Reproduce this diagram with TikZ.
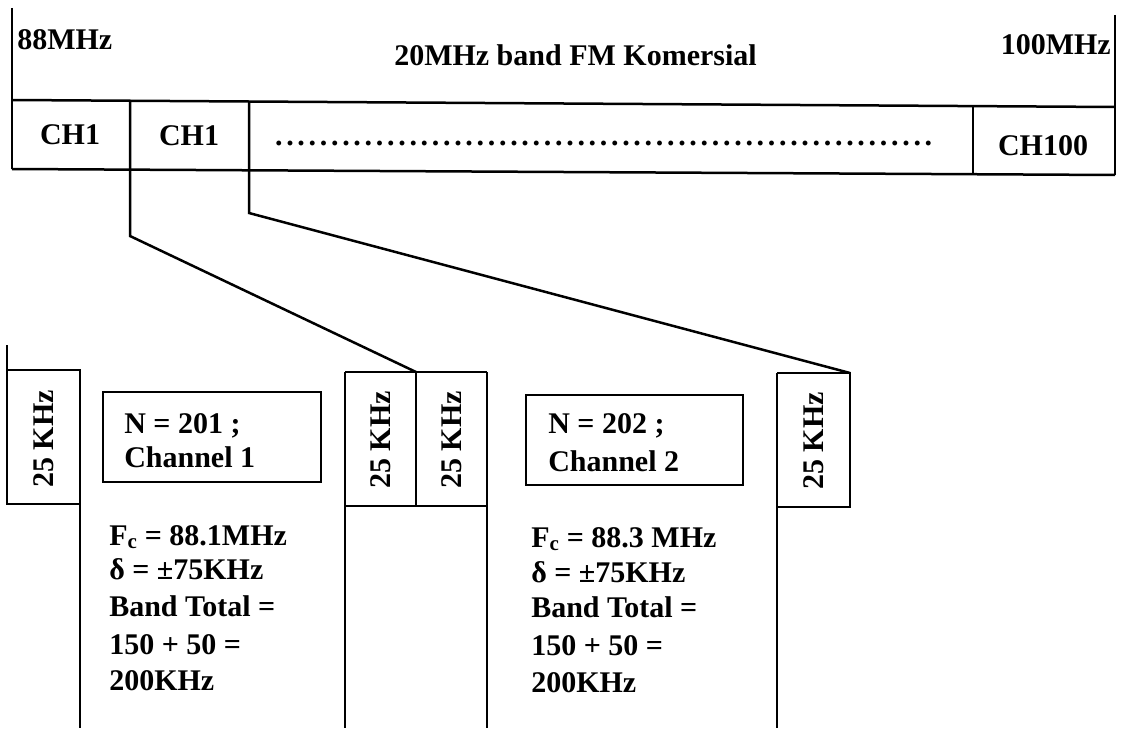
\documentclass[tikz,border=0pt]{standalone}
\usepackage{fontspec}
\setmainfont{Liberation Serif}
\begin{document}
\begin{tikzpicture}[x=1pt,y=-1pt,line width=2.5pt,
  txt/.style={font=\fontsize{30}{36}\selectfont\bfseries,inner sep=0pt,anchor=base west},
  rot/.style={font=\fontsize{30}{36}\selectfont\bfseries,inner sep=0pt,rotate=90},
  wire/.style={line width=2.5pt,line join=miter}]
\useasboundingbox (0,0) rectangle (1121,730);
% --- top band frame
\coordinate (tl) at (12,100);
\coordinate (tr) at (1115,107);
\coordinate (bl) at (12,169);
\coordinate (br) at (1115,175);
\draw[wire] (12,8) -- (bl);
\draw[wire] (1115,15) -- (br);
\draw[wire] (tl) -- (tr);
\draw[wire] (bl) -- (br);
\draw[wire] (973,106.1) -- (973,174.2);
% texts of the band
\node[txt] (f88) at (16,50) {88MHz};
\node[txt,anchor=base east] (f100) at (1112,55) {100MHz};
\node[txt] (band) at (393,66) {20MHz band FM Komersial};
\node[txt,anchor=base] (ch1a) at (70,145) {CH1};
\node[txt,anchor=base] (ch1b) at (189,146) {CH1};
\node[txt,anchor=base] (ch100) at (1043,156) {CH100};
\node[txt] (dots) at (272,146) {\makebox[670pt][l]{\leaders\hbox to 11.2pt{\hss.\hss}\hfill}};
% --- lower boxes
\coordinate (pairL) at (345,372);
\coordinate (pairM) at (416,372);
\coordinate (pairR) at (487,372);
\coordinate (rbL) at (777,373);
\coordinate (rbR) at (850,373);
% connectors from the band down to the expanded view
\draw[wire] (130,100.8) -- (130,236) -- (pairM);
\draw[wire] (249,101.5) -- (249,213) -- (rbR);
% left guard box
\draw[wire] (7,345) -- (7,504) -- (80,504);
\draw[wire] (7,370) -- (80,370) -- (80,728);
\node[rot] (g1) at (44,439) {25 KHz};
% pair of guard boxes
\draw[wire] (pairL) -- (pairR);
\draw[wire] (pairL) -- (345,728);
\draw[wire] (pairM) -- (416,506);
\draw[wire] (pairR) -- (487,728);
\draw[wire] (345,506) -- (487,506);
\node[rot] (g2) at (381,440) {25 KHz};
\node[rot] (g3) at (452,440) {25 KHz};
% right guard box
\draw[wire] (rbL) -- (rbR) -- (850,507) -- (777,507);
\draw[wire] (rbL) -- (777,728);
\node[rot] (g4) at (814,441) {25 KHz};
% channel boxes
\draw[wire] (103,392) rectangle (321,482);
\node[txt] (n1) at (123,433) {N = 201 ;};
\node[txt] (c1) at (123,467) {Channel 1};
\draw[wire] (526,395) rectangle (743,485);
\node[txt] (n2) at (547,433) {N = 202 ;};
\node[txt] (c2) at (547,471) {Channel 2};
% channel 1 data
\node[txt] (a1) at (108,545) {F\textsubscript{c} = 88.1MHz};
\node[txt] (a2) at (108,579) {δ = ±75KHz};
\node[txt] (a3) at (108,616) {Band Total =};
\node[txt] (a4) at (108,654) {150 + 50 =};
\node[txt] (a5) at (108,690) {200KHz};
% channel 2 data
\node[txt] (b1) at (530,547) {F\textsubscript{c} = 88.3 MHz};
\node[txt] (b2) at (530,582) {δ = ±75KHz};
\node[txt] (b3) at (530,617) {Band Total =};
\node[txt] (b4) at (530,655) {150 + 50 =};
\node[txt] (b5) at (530,692) {200KHz};
\end{tikzpicture}
\end{document}
